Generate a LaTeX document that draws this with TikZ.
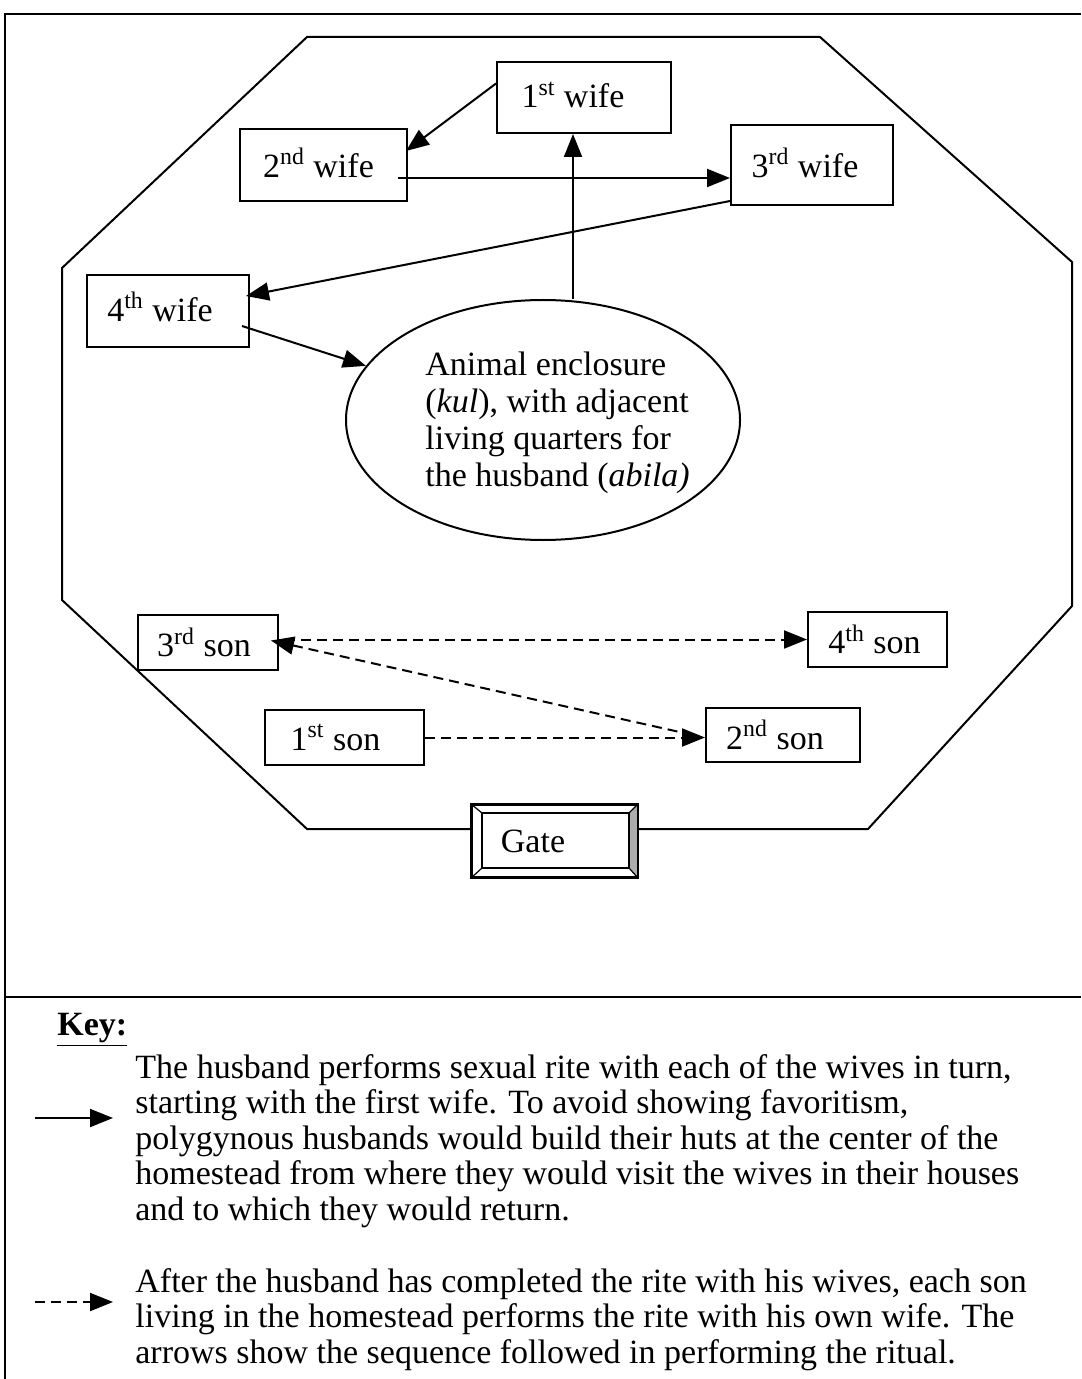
\documentclass[tikz,border=0pt]{standalone}
\usepackage{fontspec}
\setmainfont{Liberation Serif}
\usetikzlibrary{arrows.meta,shapes.geometric}
% label set a little up and to the left inside its house
\newcommand{\hutname}[3]{\raisebox{#1}{#3}\hspace*{#2}}
\begin{document}
\begin{tikzpicture}[x=0.5pt,y=-0.5pt,
  txt/.style={font=\fontsize{17}{18}\selectfont, inner sep=0pt},
  hut/.style={draw, line width=1pt, inner sep=0pt, font=\fontsize{17}{18}\selectfont},
  visit/.style={line width=1pt, -{Triangle[length=11.5pt,width=9pt]}},
  sonvisit/.style={visit, dash pattern=on 5pt off 3pt},
  wall/.style={line width=1pt, line join=miter},
  frameline/.style={line width=1.4pt}
]
\useasboundingbox (0,0) rectangle (1081,1379);

% outer frame and key divider
\draw[frameline] (5,1379) -- (5,14) -- (1081,14);
\draw[frameline] (5,997) -- (1081,997);

% wives' houses
\node[hut, minimum width=87pt, minimum height=35.5pt] (w1) at (584,97.5) {\hutname{2.5pt}{11pt}{1\textsuperscript{st} wife}};
\node[hut, minimum width=83.5pt, minimum height=36pt] (w2) at (323.5,165) {\hutname{2.5pt}{5pt}{2\textsuperscript{nd} wife}};
\node[hut, minimum width=81pt, minimum height=40pt] (w3) at (812,165) {\hutname{2.5pt}{7pt}{3\textsuperscript{rd} wife}};
\node[hut, minimum width=81pt, minimum height=36pt] (w4) at (168,311) {\hutname{4pt}{8pt}{4\textsuperscript{th} wife}};

% sons' houses
\node[hut, minimum width=70pt, minimum height=27.5pt] (s3) at (208,642.5) {\hutname{0pt}{4pt}{3\textsuperscript{rd} son}};
\node[hut, minimum width=69.5pt, minimum height=27.5pt] (s4) at (877.5,639.5) {\hutname{0pt}{3pt}{4\textsuperscript{th} son}};
\node[hut, minimum width=79.5pt, minimum height=27.5pt] (s1) at (344.5,737.5) {\hutname{0pt}{9pt}{1\textsuperscript{st} son}};
\node[hut, minimum width=77pt, minimum height=27pt] (s2) at (783,735) {\hutname{0pt}{8pt}{2\textsuperscript{nd} son}};

% animal enclosure with the husband's quarters
\node[draw, ellipse, line width=1pt, minimum width=197pt, minimum height=120pt, inner sep=0pt] (encl) at (543,420) {};
\node[txt, anchor=north west, align=left, font=\fontsize{17}{18.5}\selectfont] (encltext) at (425,352)
  {Animal enclosure\\(\textit{kul}), with adjacent\\living quarters for\\the husband (\textit{abila)}};

% gate with bevelled frame
\node[draw, line width=1pt, minimum width=82.5pt, minimum height=36pt, inner sep=0pt] (gate) at (554.5,841) {};
\fill[gray!65] (629,813) -- (637,805) -- (637,877) -- (629,868) -- cycle;
\draw[line width=0.8pt] (482,813) rectangle (629,868);
\draw[line width=0.6pt] (gate.north west) -- (482,813) (gate.south west) -- (482,868)
  (gate.north east) -- (629,813) (gate.south east) -- (629,868);
\draw[line width=1pt] (gate.north west) rectangle (gate.south east);
\node[txt] (gatetext) at (533,841) {Gate};

% homestead fence
\draw[wall] (472,829) -- (307,829) -- (62,600) -- (62,268) -- (307,37) -- (820,37)
  -- (1072,262) -- (1072,606) -- (868,829) -- (637,829);

% husband's round of visits
\draw[visit] ([xshift=15pt]encl.north) -- ([xshift=-5.5pt]w1.south);
\draw[visit] ([yshift=7pt]w1.west) -- ([xshift=-1pt,yshift=-11.5pt]w2.north east);
\draw[visit] ([xshift=-5pt,yshift=-6.5pt]w2.east) -- ([yshift=-6.5pt]w3.west);
\draw[visit] ([yshift=2.5pt]w3.south west) -- ([xshift=-2pt,yshift=7.5pt]w4.east);
\draw[visit] ([xshift=-4pt,yshift=-7.5pt]w4.east) -- (encl.163);

% sons' sequence
\draw[sonvisit] (s1.east) -- (s1.east -| s2.west);
\draw[sonvisit] ([xshift=-6pt]s2.west) -- ([xshift=-4pt,yshift=1pt]s3.east);
\draw[sonvisit] ([xshift=3pt,yshift=1.5pt]s3.east) -- ([yshift=0pt]s4.west);

% key
\node[txt, anchor=base west] (keyhead) at (57,1035) {\textbf{\underline{Key:}}};
\coordinate (k1a) at (35,1118);
\coordinate (k1b) at (113,1118);
\draw[visit] (k1a) -- (k1b);
\coordinate (k2a) at (35,1302);
\coordinate (k2b) at (113,1302);
\draw[sonvisit] (k2a) -- (k2b);
\node[txt, anchor=north west, align=left, font=\fontsize{17}{17.75}\selectfont] (keyone) at (135,1054)
  {The husband performs sexual rite with each of the wives in turn,\\
   starting with the first wife. To avoid showing favoritism,\\
   polygynous husbands would build their huts at the center of the\\
   homestead from where they would visit the wives in their houses\\
   and to which they would return.};
\node[txt, anchor=north west, align=left, font=\fontsize{17}{17.75}\selectfont] (keytwo) at (135,1268)
  {After the husband has completed the rite with his wives, each son\\
   living in the homestead performs the rite with his own wife. The\\
   arrows show the sequence followed in performing the ritual.};
\end{tikzpicture}
\end{document}
